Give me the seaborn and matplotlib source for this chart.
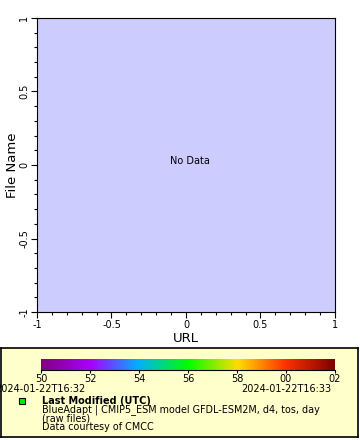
import numpy as np
import pandas as pd
import matplotlib
matplotlib.use("Agg")
import matplotlib.pyplot as plt
from matplotlib.colors import LinearSegmentedColormap
from matplotlib.ticker import MultipleLocator
import seaborn as sns

# data
x_vals = []
y_vals = []
x_ticks = [-1, -0.5, 0, 0.5, 1]
x_tick_labels = ["-1", "-0.5", "0", "0.5", "1"]
y_ticks = [-1, -0.5, 0, 0.5, 1]
y_tick_labels = ["-1", "-0.5", "0", "0.5", "1"]
cbar_labels = ["50", "52", "54", "56", "58", "00", "02"]
time_start = "2024-01-22T16:32"
time_end = "2024-01-22T16:33"
legend_title = "Last Modified (UTC)"
legend_lines = ["BlueAdapt | CMIP5_ESM model GFDL-ESM2M, d4, tos, day", "(raw files)", "Data courtesy of CMCC"]

sns.set_style("ticks")
plt.rcParams['font.family'] = ['DejaVu Sans']
plt.rcParams['text.color'] = 'black'
plt.rcParams['axes.labelcolor'] = 'black'
plt.rcParams['xtick.color'] = 'black'
plt.rcParams['ytick.color'] = 'black'
plt.rcParams['axes.edgecolor'] = 'black'

fig = plt.figure(figsize=(3.6, 4.4), dpi=100)
W, H = 360, 440
ax = fig.add_axes([37 / W, 1 - 312 / H, 298 / W, 294 / H])
df = pd.DataFrame({"URL": pd.Series(x_vals, dtype=float), "File Name": pd.Series(y_vals, dtype=float)})
sns.scatterplot(data=df, x="URL", y="File Name", ax=ax)
ax.set_facecolor("#ccccff")
ax.set_xlim(-1, 1)
ax.set_ylim(-1, 1)
ax.set_xticks(x_ticks)
ax.set_xticklabels(x_tick_labels, fontsize=7)
ax.set_yticks(y_ticks)
ax.set_yticklabels(y_tick_labels, fontsize=7, rotation=90, va="center")
ax.xaxis.set_minor_locator(MultipleLocator(0.1))
ax.yaxis.set_minor_locator(MultipleLocator(0.1))
ax.tick_params(which="major", length=4, width=0.8, pad=1.5, colors="black")
ax.tick_params(which="minor", length=2, width=0.8, colors="black")
for s in ax.spines.values():
    s.set_linewidth(0.8)
ax.set_xlabel("URL", fontsize=9.5, labelpad=2)
ax.set_ylabel("File Name", fontsize=9.5, labelpad=0)
ax.text((190 - 37) / 298, 1 - (161 - 18) / 294, "No Data", ha="center", va="center",
        fontsize=7, transform=ax.transAxes)

# legend box
lax = fig.add_axes([1 / W, 1 - 437 / H, 357 / W, 89 / H])
lax.set_facecolor("#ffffcc")
lax.set_xticks([]); lax.set_yticks([])
for s in lax.spines.values():
    s.set_linewidth(1.2)
    s.set_color("black")
lax.set_xlim(1, 358); lax.set_ylim(437, 348)

# colorbar
cmap = LinearSegmentedColormap.from_list("c", [
    (0.0, "#800080"), (0.17, "#aa00ff"), (0.33, "#00b0ff"), (0.5, "#00ff00"),
    (0.67, "#ffdd00"), (0.83, "#ff3300"), (1.0, "#800000")])
cax = fig.add_axes([41 / W, 1 - 370 / H, 294 / W, 11 / H])
grad = np.linspace(0, 1, 256)[None, :]
cax.imshow(grad, aspect="auto", cmap=cmap, extent=[0, 6, 0, 1])
cax.set_yticks([])
cax.set_xticks(range(len(cbar_labels)))
cax.set_xticklabels(cbar_labels, fontsize=7)
cax.tick_params(axis="x", length=2.5, width=0.8, pad=0.5, colors="black", direction="out")
for name, s in cax.spines.items():
    s.set_visible(name == "bottom")
cax.spines["bottom"].set_linewidth(0.8)

lax.text(-5, 388.5, time_start, fontsize=7, ha="left", va="center", clip_on=False)
lax.text(331, 388.5, time_end, fontsize=7, ha="right", va="center")
lax.plot([22], [401], marker="s", markersize=4, markerfacecolor="#00ee00", markeredgecolor="black", markeredgewidth=0.8)
lax.text(42, 400.5, legend_title, fontsize=7, fontweight="bold", ha="left", va="center")
for i, t in enumerate(legend_lines):
    lax.text(42, 410 + i * 8.6, t, fontsize=6.9, ha="left", va="center")

fig.savefig("out.png", dpi=100)
